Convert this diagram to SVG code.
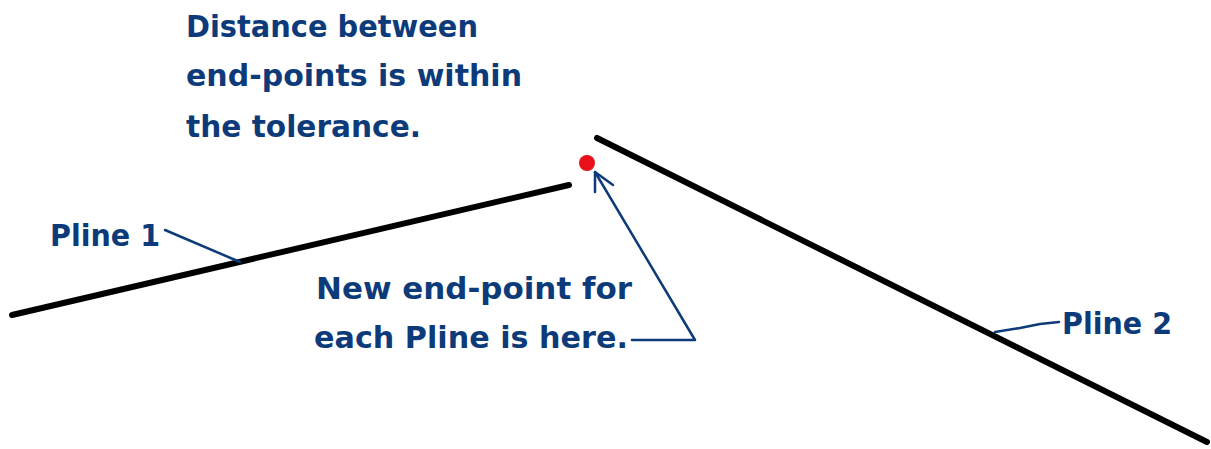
<svg xmlns="http://www.w3.org/2000/svg" width="1211" height="449" viewBox="0 0 1211 449">
<style>
.t{font-family:"DejaVu Sans","Liberation Sans",sans-serif;font-weight:bold;font-size:30px;fill:#0d3b7a}
.pl{stroke:#000;stroke-width:6;stroke-linecap:round;fill:none}
.ld{stroke:#0d3b7a;stroke-width:2.5;fill:none;stroke-linejoin:round;stroke-linecap:round}
</style>
<rect width="1211" height="449" fill="#fff"/>
<g id="pline1"><line class="pl" x1="12" y1="315" x2="569" y2="185"/></g>
<g id="pline2"><line class="pl" x1="597" y1="138" x2="1207" y2="442"/></g>
<g id="endpoint"><circle cx="587" cy="163" r="8" fill="#e8111a"/></g>
<g id="note-top">
<text class="t" x="186" y="37" textLength="292" lengthAdjust="spacingAndGlyphs">Distance between</text>
<text class="t" x="186" y="86" textLength="336" lengthAdjust="spacingAndGlyphs">end-points is within</text>
<text class="t" x="186" y="137" textLength="235" lengthAdjust="spacingAndGlyphs">the tolerance.</text>
</g>
<g id="label-pline1"><text class="t" x="50" y="246" textLength="110" lengthAdjust="spacingAndGlyphs">Pline 1</text></g>
<g id="label-pline2"><text class="t" x="1062" y="334" textLength="110" lengthAdjust="spacingAndGlyphs">Pline 2</text></g>
<g id="note-new">
<text class="t" x="316" y="299" textLength="316" lengthAdjust="spacingAndGlyphs">New end-point for</text>
<text class="t" x="314" y="348" textLength="314" lengthAdjust="spacingAndGlyphs">each Pline is here.</text>
</g>
<g id="connectors">
<polyline class="ld" points="165,230 240,262"/>
<polyline class="ld" points="995,332 1020,328 1040,324 1059,322"/>
<polyline class="ld" points="632,340 695,340 595,172"/>
<polyline class="ld" points="595,192 595,172 613,185"/>
</g>
</svg>
